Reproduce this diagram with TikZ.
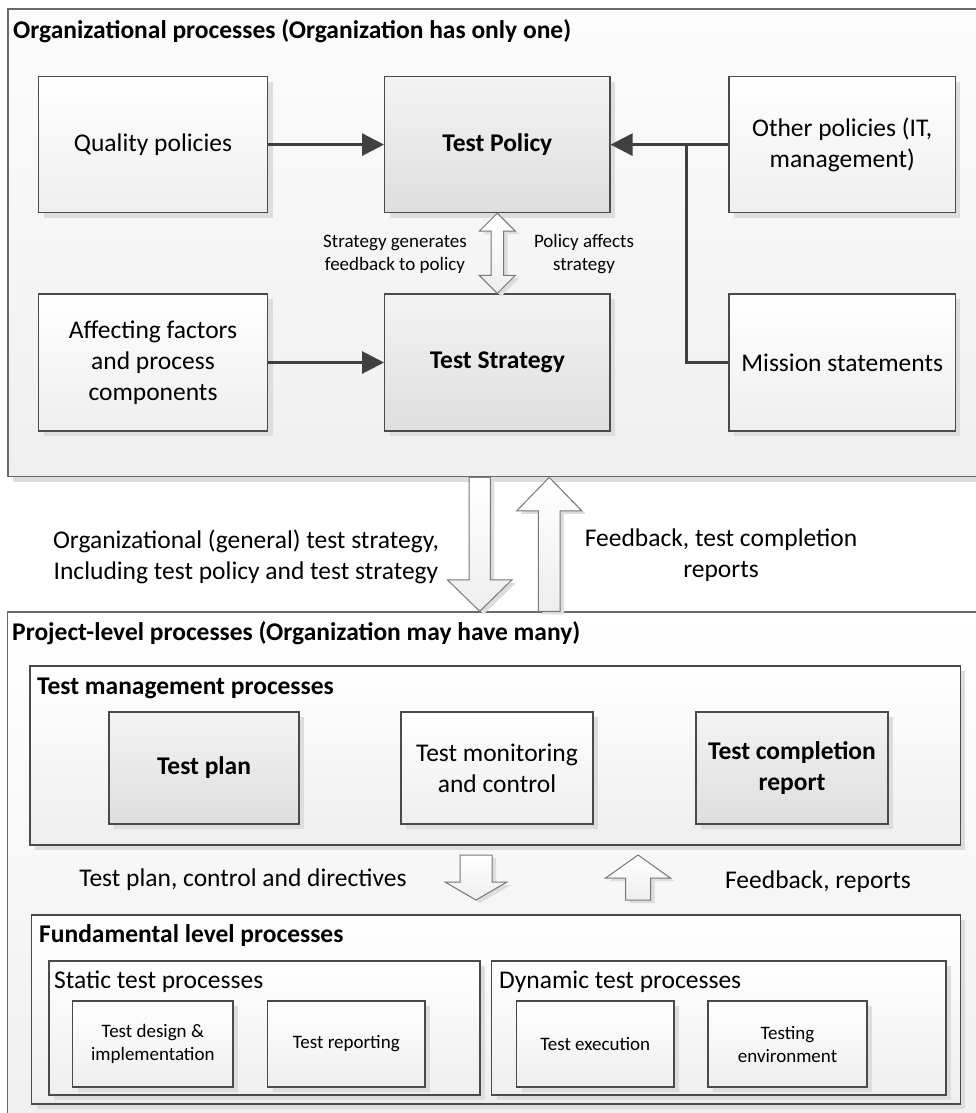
\documentclass[tikz,border=0pt]{standalone}
\usepackage{fontspec}
\setmainfont{Carlito}
\usetikzlibrary{arrows.meta,shadows,calc}

\definecolor{edge}{HTML}{4A4A4A}
\definecolor{outeredge}{HTML}{6A6A6A}
\definecolor{shadowgray}{HTML}{DDDDDD}
\definecolor{boxlow}{HTML}{EEEEEE}
\definecolor{graytop}{HTML}{F3F3F3}
\definecolor{graylow}{HTML}{DEDEDE}
\definecolor{outertop}{HTML}{FCFCFC}
\definecolor{outerlow}{HTML}{EFEFEF}
\definecolor{linkgray}{HTML}{404040}
\definecolor{arrowedge}{HTML}{777777}

\tikzset{
  bigfont/.style={font=\fontsize{25.5}{31}\selectfont},
  smallfont/.style={font=\fontsize{19}{23}\selectfont},
  shade/.style={drop shadow={shadow xshift=5pt, shadow yshift=-5pt, fill=shadowgray, opacity=1}},
  base/.style={draw=edge, line width=1.2pt, align=center, inner sep=0pt, shade},
  outerbox/.style={base, draw=outeredge, line width=1.4pt, top color=outertop, bottom color=outerlow},
  groupbox/.style={base, top color=white, bottom color=boxlow},
  whitebox/.style={base, bigfont, top color=white, bottom color=boxlow},
  graybox/.style={base, top color=graytop, bottom color=graylow,
    font=\fontsize{25.5}{31}\selectfont\bfseries},
  smallbox/.style={base, smallfont, top color=white, bottom color=boxlow},
  heading/.style={anchor=west, inner sep=0pt, font=\fontsize{25.5}{31}\selectfont\bfseries},
  subheading/.style={anchor=west, inner sep=0pt, bigfont},
  label/.style={align=center, inner sep=0pt},
  link/.style={draw=linkgray, line width=3pt},
  linkarrow/.style={link, -{Triangle[length=22pt,width=22pt]}},
  blockarrow/.style={draw=arrowedge, line width=1pt, line join=miter,
    top color=white, bottom color=boxlow,
    drop shadow={shadow xshift=4pt, shadow yshift=-3pt, fill=shadowgray, opacity=1}},
}

% vertical block arrow: tail, tip, shaft half width, head half width,
% head length (positive when pointing down, negative when pointing up)
\newcommand{\vblockarrow}[5]{%
  \path[blockarrow] let \p1=(#1), \p2=(#2) in
    (\x1-#3,\y1) -- (\x2-#3,\y2+#5) -- (\x2-#4,\y2+#5) -- (\x2,\y2)
    -- (\x2+#4,\y2+#5) -- (\x2+#3,\y2+#5) -- (\x1+#3,\y1) -- cycle;}

\begin{document}
\begin{tikzpicture}[x=1pt,y=-1pt]
\useasboundingbox (0,0) rectangle (976,1113);

% ---------- organizational level ----------
\node[outerbox, minimum width=987pt, minimum height=467.7pt] (org) at (501.5,242.85) {};
\node[heading] (orgt) at (13,31) {Organizational processes (Organization has only one)};

\node[whitebox, minimum width=229pt, minimum height=136pt] (qp) at (153,144.6) {Quality policies};
\node[graybox,  minimum width=225.4pt, minimum height=136pt] (tp) at (497.3,144.6) {Test Policy};
\node[whitebox, minimum width=226.3pt, minimum height=136pt] (op) at (842.2,144.6) {Other policies (IT,\\management)};
\node[whitebox, minimum width=229pt, minimum height=137pt] (af) at (153,362.5) {Affecting factors\\and process\\components};
\node[graybox,  minimum width=225.4pt, minimum height=137pt] (ts) at (497.3,362.5) {Test Strategy};
\node[whitebox, minimum width=226.3pt, minimum height=137pt] (ms) at (842.2,362.5) {Mission statements};

\draw[linkarrow] (qp.east) -- (tp.west);
\draw[linkarrow] (af.east) -- (ts.west);
\coordinate (jn) at ([xshift=-42pt]op.west);
\draw[linkarrow] (op.west) -- (tp.east);
\draw[link] (ms.west) -| (jn);

% two-way feedback between policy and strategy
\path[blockarrow] let \p1=(tp.south), \p2=(ts.north) in
  (\x1,\y1) -- (\x1+18pt,\y1-18pt) -- (\x1+6.2pt,\y1-18pt) -- (\x2+6.2pt,\y2+18pt)
  -- (\x2+18pt,\y2+18pt) -- (\x2,\y2) -- (\x2-18pt,\y2+18pt) -- (\x2-6.2pt,\y2+18pt)
  -- (\x1-6.2pt,\y1-18pt) -- (\x1-18pt,\y1-18pt) -- cycle;
\node[label, smallfont] (fbl) at (395,254.5) {Strategy generates\\feedback to policy};
\node[label, smallfont] (pal) at (584,254.5) {Policy affects\\strategy};

% ---------- project level ----------
\node[outerbox, top color=white, minimum width=987.5pt, minimum height=518pt] (proj) at (501.25,871) {};
\node[heading] (projt) at (12,633) {Project-level processes (Organization may have many)};

% exchange between the two levels
\coordinate (xa) at (479.7,0);
\coordinate (xb) at (549.2,0);
\vblockarrow{org.south -| xa}{proj.north -| xa}{10.7pt}{32.2pt}{31.4pt}
\vblockarrow{proj.north -| xb}{org.south -| xb}{10.85pt}{32.5pt}{-33.4pt}
\node[label, bigfont] (down1) at (246,557) {Organizational (general) test strategy,\\Including test policy and test strategy};
\node[label, bigfont] (up1) at (721,555) {Feedback, test completion\\reports};

% test management
\node[groupbox, minimum width=930.3pt, minimum height=179pt] (tm) at (495.15,755.5) {};
\node[heading] (tmt) at (37,688) {Test management processes};
\node[graybox,  minimum width=190pt, minimum height=112pt] (tplan) at (204,768) {Test plan};
\node[whitebox, minimum width=192pt, minimum height=112pt] (tmon) at (497,768) {Test monitoring\\and control};
\node[graybox,  minimum width=192pt, minimum height=112pt] (tcr) at (792,768) {Test completion\\report};

% directives down, reports up
\coordinate (m1a) at (476,855);
\coordinate (m1b) at (476,900);
\coordinate (m2a) at (638,900);
\coordinate (m2b) at (638,855);
\vblockarrow{m1a}{m1b}{16pt}{31pt}{18pt}
\vblockarrow{m2a}{m2b}{12.5pt}{32.3pt}{-23pt}
\node[label, bigfont] (down2) at (243,880) {Test plan, control and directives};
\node[label, bigfont] (up2) at (818,882) {Feedback, reports};

% fundamental level
\node[groupbox, minimum width=928.6pt, minimum height=189pt] (fund) at (496,1009.5) {};
\node[heading] (fundt) at (39,936) {Fundamental level processes};
\node[groupbox, minimum width=431pt, minimum height=134pt] (stat) at (264.5,1028) {};
\node[subheading] (statt) at (54,982) {Static test processes};
\node[groupbox, minimum width=454.4pt, minimum height=134pt] (dyn) at (718.8,1028) {};
\node[subheading] (dynt) at (499,982) {Dynamic test processes};

\node[smallbox, minimum width=160.3pt, minimum height=86pt] (tdi) at (152.85,1044) {Test design \&\\implementation};
\node[smallbox, minimum width=157.4pt, minimum height=86pt] (trep) at (346.3,1044) {Test reporting};
\node[smallbox, minimum width=157.5pt, minimum height=86pt] (texe) at (595.25,1044) {Test execution};
\node[smallbox, minimum width=159pt, minimum height=86pt] (tenv) at (787.5,1044) {Testing\\environment};

\end{tikzpicture}
\end{document}
